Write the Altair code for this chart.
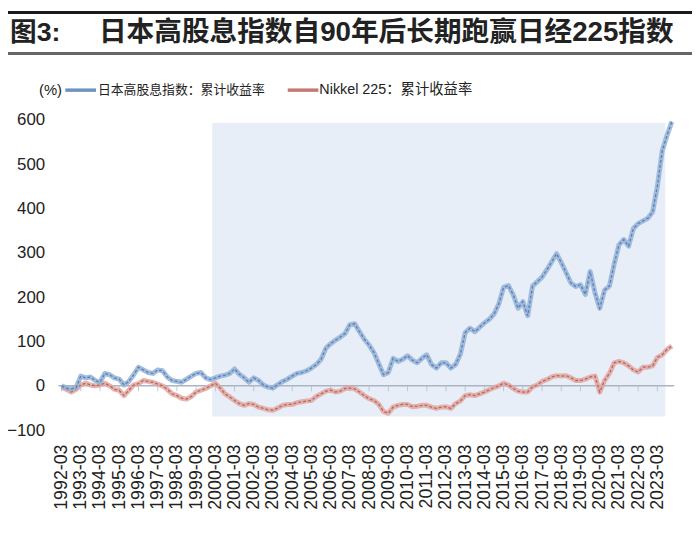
import altair as alt
import pandas as pd

title_prefix = "图3:"
title_main = "日本高股息指数自90年后长期跑赢日经225指数"
legend_unit = "(%)"
legend_blue = "日本高股息指数：累计收益率"
legend_red = "Nikkel 225：累计收益率"

start_month = "1992-03-01"
n_points = 128  # quarterly, 1992-03 .. 2023-12

# 日本高股息指数：累计收益率 (%), quarterly
high_div = [
    0, -5, -7, -4,        # 1992
    22, 18, 20, 12,       # 1993
    8, 28, 25, 18,        # 1994
    15, 2, 10, 25,        # 1995
    42, 36, 30, 28,       # 1996
    36, 34, 20, 12,       # 1997
    10, 8, 15, 22,        # 1998
    28, 30, 18, 14,       # 1999
    18, 22, 24, 28,       # 2000
    38, 26, 18, 8,        # 2001
    18, 12, 2, -3,        # 2002
    -5, 3, 10, 15,        # 2003
    22, 28, 30, 34,       # 2004
    40, 48, 60, 85,       # 2005
    95, 103, 110, 118,    # 2006
    138, 140, 122, 105,   # 2007
    92, 75, 50, 25,       # 2008
    30, 62, 55, 60,       # 2009
    68, 58, 52, 62,       # 2010
    70, 48, 40, 52,       # 2011
    52, 40, 48, 72,       # 2012
    120, 130, 122, 132,   # 2013
    142, 150, 162, 185,   # 2014
    222, 226, 205, 175,   # 2015
    190, 158, 225, 235,   # 2016
    245, 262, 280, 298,   # 2017
    278, 255, 232, 224,   # 2018
    228, 206, 258, 210,   # 2019
    175, 216, 225, 275,   # 2020
    318, 330, 315, 355,   # 2021
    366, 372, 378, 392,   # 2022
    450, 530, 565, 596,   # 2023
]

# Nikkel 225：累计收益率 (%), quarterly
nikkei = [
    -3, -8, -14, -8,      # 1992
    2, 6, 2, 0,           # 1993
    2, 6, 0, -8,          # 1994
    -10, -22, -10, 2,     # 1995
    5, 12, 10, 8,         # 1996
    4, 0, -8, -18,        # 1997
    -22, -28, -30, -24,   # 1998
    -14, -10, -6, 0,      # 1999
    6, -5, -18, -25,      # 2000
    -33, -40, -44, -40,   # 2001
    -42, -48, -51, -54,   # 2002
    -55, -50, -44, -42,   # 2003
    -42, -38, -36, -34,   # 2004
    -33, -24, -18, -12,   # 2005
    -10, -14, -12, -6,    # 2006
    -5, -7, -14, -22,     # 2007
    -29, -33, -42, -58,   # 2008
    -62, -48, -44, -42,   # 2009
    -42, -47, -46, -44,   # 2010
    -44, -48, -51, -48,   # 2011
    -47, -51, -40, -34,   # 2012
    -22, -20, -22, -18,   # 2013
    -14, -9, -4, 0,       # 2014
    6, 2, -6, -12,        # 2015
    -14, -14, -2, 2,      # 2016
    10, 14, 20, 23,       # 2017
    22, 23, 18, 12,       # 2018
    12, 15, 20, 22,       # 2019
    -14, 12, 28, 52,      # 2020
    55, 52, 45, 36,       # 2021
    31, 42, 42, 45,       # 2022
    64, 70, 82, 90,       # 2023
]

tick_years = list(range(1992, 2024))
y_ticks = [-100, 0, 100, 200, 300, 400, 500, 600]
y_domain = [-100, 600]
x_domain_start = (1992, 1, 1)
x_domain_end = (2024, 1, 15)
shade_x = ("2000-01-01", "2023-08-01")
shade_y = (593, -69)

blue_band, blue_line = "#93b2d8", "#5b80b0"
red_band, red_line = "#e0a7a1", "#b9655d"
shade_color = "#e8eef8"
zero_color = "#aab4c2"

dates = list(pd.date_range(start_month, periods=n_points, freq="3MS").strftime("%Y-%m-%d"))
df_blue = pd.DataFrame({"date": dates, "value": high_div})
df_red = pd.DataFrame({"date": dates, "value": nikkei})
df_ticks = pd.DataFrame({"date": [f"{y}-03-01" for y in tick_years]})
one = pd.DataFrame({"k": [0]})

xscale = alt.Scale(
    type="utc",
    domain=[alt.DateTime(year=x_domain_start[0], month=x_domain_start[1], date=x_domain_start[2], utc=True),
            alt.DateTime(year=x_domain_end[0], month=x_domain_end[1], date=x_domain_end[2], utc=True)],
)
xaxis = alt.Axis(
    values=[alt.DateTime(year=y, month=3, date=1, utc=True) for y in tick_years],
    format="%Y-%m", labelAngle=-90, labelFont="Liberation Sans", labelFontSize=18,
    labelColor="#222222", labelPadding=14, domain=False, ticks=False, grid=False,
    labelOverlap=False, labelBound=False, labelFlush=False,
)
yscale = alt.Scale(domain=y_domain, nice=False, zero=False)
yaxis = alt.Axis(
    values=y_ticks, labelFont="Liberation Sans", labelFontSize=17, labelColor="#222222",
    labelPadding=14, domain=False, ticks=False, grid=False,
)


def X(field):
    return alt.X(field, type="temporal", scale=xscale, axis=xaxis, title=None)


def Y(field):
    return alt.Y(field, type="quantitative", scale=yscale, axis=yaxis, title=None)


shade = alt.Chart(pd.DataFrame({"x": [shade_x[0]], "x2": [shade_x[1]],
                                "y": [shade_y[0]], "y2": [shade_y[1]]})).mark_rect(
    color=shade_color).encode(x=X("x"), x2="x2:T", y=Y("y"), y2="y2:Q")

zero = alt.Chart(pd.DataFrame({"x": ["1992-01-01"], "x2": ["2024-01-15"], "y": [0]})).mark_rule(
    color=zero_color, strokeWidth=1.5).encode(x=X("x"), x2="x2:T", y=Y("y"))

ticks = alt.Chart(df_ticks).mark_tick(orient="vertical", size=5, thickness=1, yOffset=3,
                                      color=zero_color).encode(x=X("date"), y=alt.datum(0))

red_b = alt.Chart(df_red).mark_line(color=red_band, strokeWidth=5, opacity=0.85,
                                    strokeJoin="round").encode(x=X("date"), y=Y("value"))
red_l = alt.Chart(df_red).mark_line(color=red_line, strokeWidth=1.3, strokeDash=[3, 2]).encode(
    x=X("date"), y=Y("value"))
blue_b = alt.Chart(df_blue).mark_line(color=blue_band, strokeWidth=5, opacity=0.85,
                                      strokeJoin="round").encode(x=X("date"), y=Y("value"))
blue_l = alt.Chart(df_blue).mark_line(color=blue_line, strokeWidth=1.3, strokeDash=[3, 2]).encode(
    x=X("date"), y=Y("value"))


def txt(s, x, y, size, weight="normal", font="Noto Sans CJK SC", color="#222222", align="left"):
    return alt.Chart(pd.DataFrame({"t": [s]})).mark_text(
        align=align, baseline="middle", fontSize=size, fontWeight=weight, font=font, color=color
    ).encode(text="t:N", x=alt.value(x), y=alt.value(y))


def hline(x1, x2, y, color, width):
    return alt.Chart(one).mark_rule(color=color, strokeWidth=width).encode(
        x=alt.value(x1), x2=alt.value(x2), y=alt.value(y))


top_bar = hline(-51, 641, -108.5, "#1a1a1a", 3)
under_bar = hline(-51, 641, -67, "#666666", 3)
t_prefix = txt(title_prefix, -49, -88, 27, weight="bold", font="Liberation Sans, Noto Sans CJK SC")
t_main = txt(title_main, 41, -88, 28, weight="bold", font="Liberation Sans, Noto Sans CJK SC")
l_unit = txt(legend_unit, -8, -30, 15, font="Liberation Sans", align="center")
l_blue_line = hline(7, 38, -30, "#6f93c0", 3.5)
l_blue_text = txt(legend_blue, 40, -30, 13)
l_red_line = hline(232, 263, -30, "#c47a72", 3.5)
l_red_text = txt(legend_red, 264, -30, 14.5, font="Liberation Sans, Noto Sans CJK SC")

chart = alt.layer(
    shade, zero, ticks, red_b, red_l, blue_b, blue_l,
    top_bar, under_bar, t_prefix, t_main, l_unit, l_blue_line, l_blue_text, l_red_line, l_red_text,
).properties(
    width=623, height=314,
    autosize=alt.AutoSizeParams(type="none"),
    padding={"left": 51, "top": 110, "right": 18, "bottom": 108},
    background="white",
).configure_view(stroke=None)

chart.save("out.html", embed_options={"renderer": "svg", "actions": False})
